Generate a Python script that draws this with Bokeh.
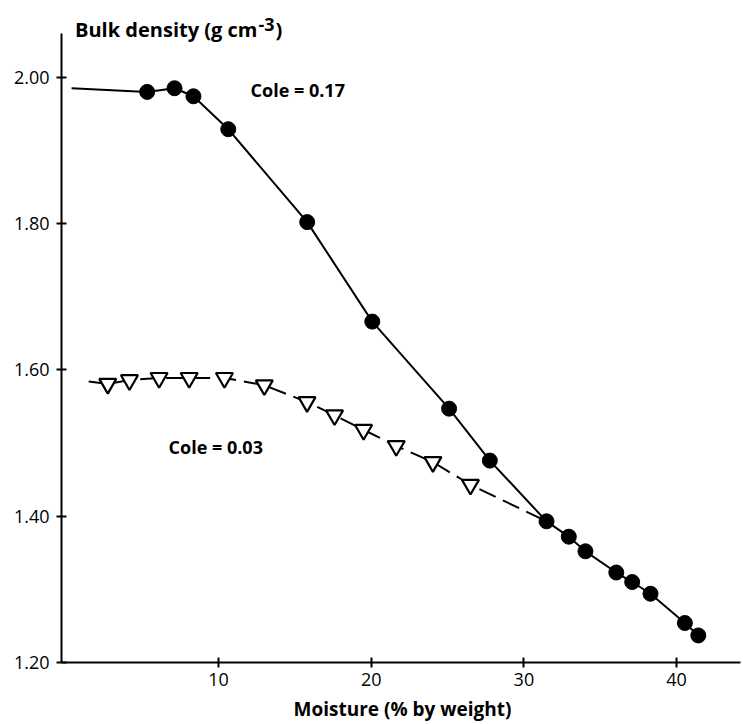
from bokeh.plotting import figure
from bokeh.models import Range1d, FixedTicker, PrintfTickFormatter
from bokeh.core.properties import value
from bokeh.embed import file_html
from bokeh.resources import INLINE

# Soil with Cole = 0.17 (filled circles, solid curve)
moist_a = [5.33, 7.12, 8.36, 10.64, 15.81, 20.07, 25.1, 27.77, 31.48, 32.94,
           34.03, 36.05, 37.09, 38.29, 40.54, 41.42]
dens_a = [1.980, 1.985, 1.974, 1.929, 1.802, 1.666, 1.547, 1.476, 1.393, 1.372,
          1.352, 1.323, 1.310, 1.294, 1.254, 1.237]
curve_a_start = (0.38, 1.985)

# Soil with Cole = 0.03 (open triangles, dashed curve)
moist_b = [2.75, 4.17, 6.11, 8.08, 10.39, 13.0, 15.8, 17.6, 19.5, 21.64, 24.04, 26.5]
dens_b = [1.581, 1.586, 1.589, 1.589, 1.589, 1.579, 1.556, 1.538, 1.518, 1.496,
          1.474, 1.443]
curve_b_start = (1.5, 1.584)
curve_b_end = (31.48, 1.393)

x_ticks = [10, 20, 30, 40]
y_ticks = [1.2, 1.4, 1.6, 1.8, 2.0]

FONT = "Open Sans"

p = figure(width=743, height=724, output_backend="svg", toolbar_location=None,
           x_range=Range1d(-0.28, 44.38), y_range=Range1d(1.20, 2.094),
           min_border_left=61, min_border_right=0, min_border_top=8,
           min_border_bottom=61)
p.outline_line_color = None
p.grid.visible = False
p.background_fill_color = "white"
p.border_fill_color = "white"

# curves
line_ax = [curve_a_start[0]] + moist_a
line_ay = [curve_a_start[1]] + dens_a
p.line(line_ax, line_ay, line_color="black", line_width=2)

line_bx = [curve_b_start[0]] + moist_b + [curve_b_end[0]]
line_by = [curve_b_start[1]] + dens_b + [curve_b_end[1]]
p.line(line_bx, line_by, line_color="black", line_width=2, line_dash="18 8")

# markers
p.scatter(moist_b, dens_b, marker="inverted_triangle", size=17,
          fill_color="white", line_color="black", line_width=2.2)
p.scatter(moist_a, dens_a, marker="circle", size=15,
          fill_color="black", line_color="black")

# annotations
common = dict(text_font=value(FONT), text_font_style="bold",
              text_baseline="alphabetic", text_color="black")
p.text(x=[12.1], y=[1.982], text=["Cole = 0.17"], text_font_size="18px",
       text_align="left", **common)
p.text(x=[6.73], y=[1.495], text=["Cole = 0.03"], text_font_size="18px",
       text_align="left", **common)
# y-axis title above the axis, with raised exponent
p.text(x=[12.55], y=[2.0655], text=["Bulk density (g cm"], text_font_size="20px",
       text_align="right", **common)
p.text(x=[12.62], y=[2.0724], text=["-3"], text_font_size="18px",
       text_align="left", **common)
p.text(x=[13.73], y=[2.0655], text=[")"], text_font_size="20px",
       text_align="left", **common)

# axes
for ax in (p.xaxis[0], p.yaxis[0]):
    ax.axis_line_width = 2
    ax.axis_line_color = "black"
    ax.major_tick_line_width = 2
    ax.major_tick_line_color = "black"
    ax.major_tick_in = 5
    ax.major_tick_out = 5
    ax.minor_tick_line_color = None
    ax.major_label_text_font = FONT
    ax.major_label_text_font_size = "18px"
    ax.major_label_text_color = "black"

p.xaxis.ticker = FixedTicker(ticks=x_ticks)
p.xaxis.bounds = (-0.28, 44.2)
p.xaxis.major_label_standoff = 5
p.xaxis.axis_label = "Moisture (% by weight)"
p.xaxis.axis_label_text_font = FONT
p.xaxis.axis_label_text_font_size = "19px"
p.xaxis.axis_label_text_font_style = "bold"
p.xaxis.axis_label_text_color = "black"
p.xaxis.axis_label_standoff = 7

p.yaxis.ticker = FixedTicker(ticks=y_ticks)
p.yaxis.formatter = PrintfTickFormatter(format="%.2f")
p.yaxis.bounds = (1.20, 2.06)
p.yaxis.major_label_standoff = 7

with open("out.html", "w") as f:
    f.write(file_html(p, INLINE))
